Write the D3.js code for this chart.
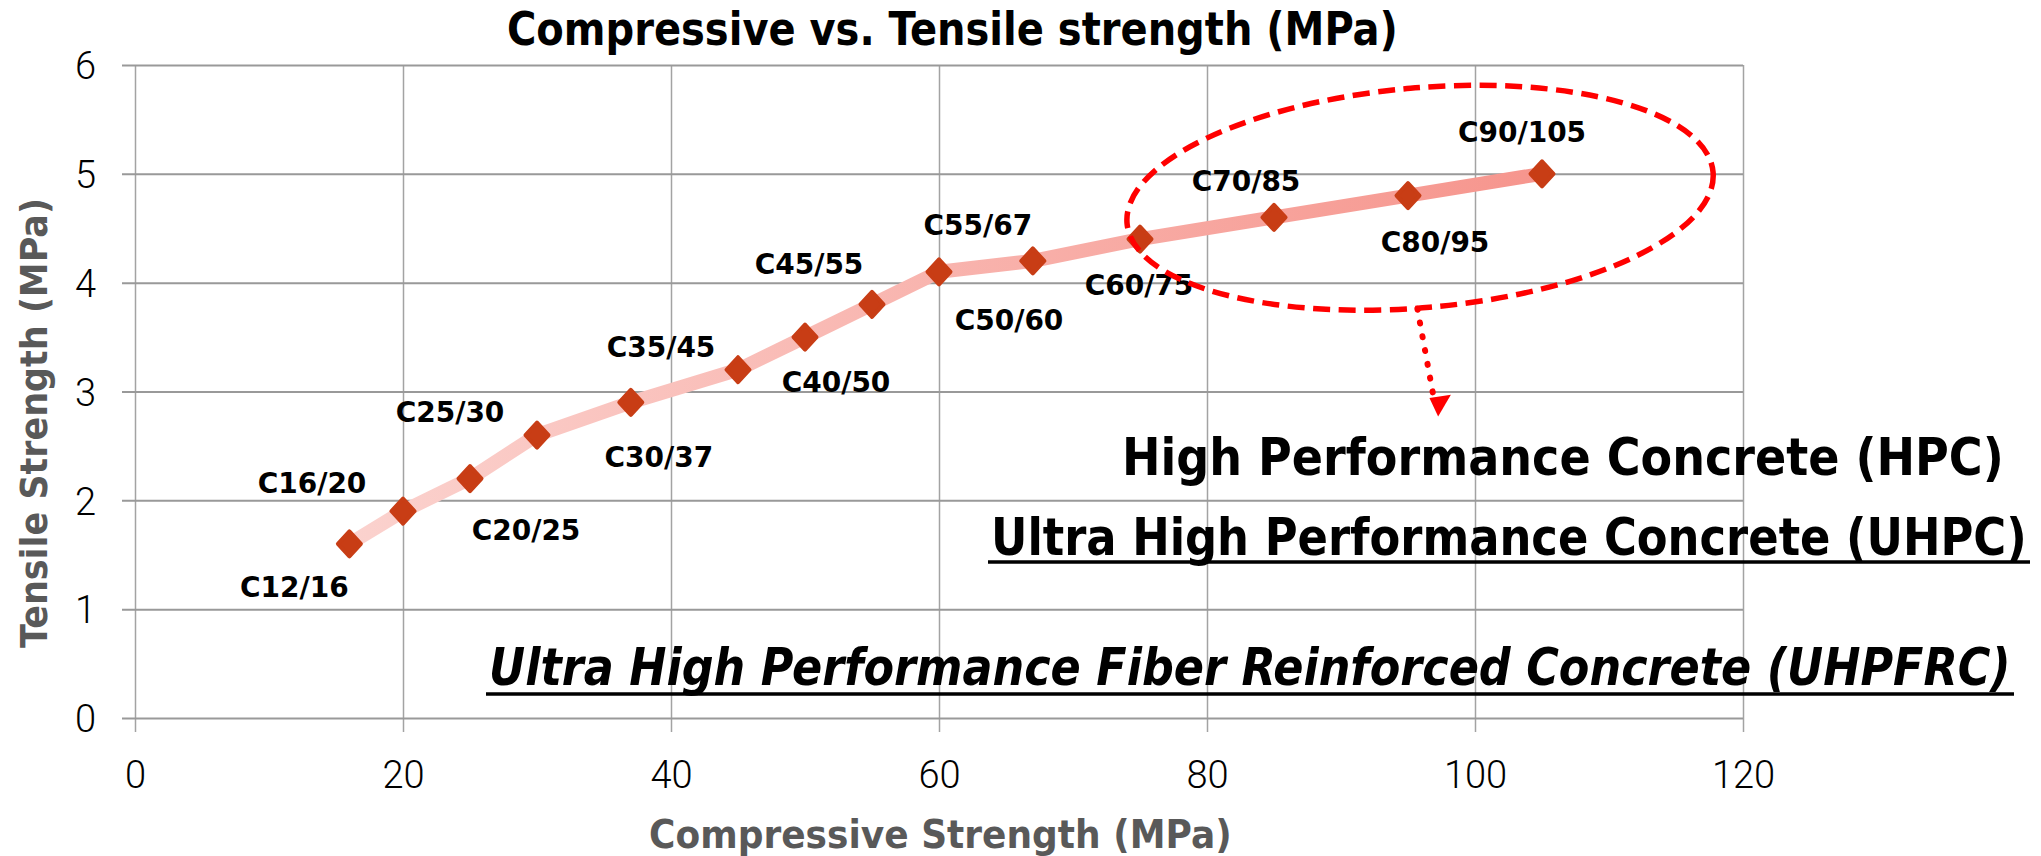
<!DOCTYPE html>
<html><head><meta charset="utf-8">
<script src="https://cdn.jsdelivr.net/npm/d3@7"></script>
<style>html,body{margin:0;padding:0;background:#fff;overflow:hidden} svg{display:block}</style>
</head><body>
<svg id="chart" width="2041" height="856"></svg>
<script>
// ---------- data ----------
const grades = ["C12/16","C16/20","C20/25","C25/30","C30/37","C35/45","C40/50","C45/55","C50/60","C55/67","C60/75","C70/85","C80/95","C90/105"];
const compressive = [16,20,25,30,37,45,50,55,60,67,75,85,95,105];
const tensile = [1.6,1.9,2.2,2.6,2.9,3.2,3.5,3.8,4.1,4.2,4.4,4.6,4.8,5.0];
const xTicks = [0,20,40,60,80,100,120];
const yTicks = [0,1,2,3,4,5,6];
const chartTitle = "Compressive vs. Tensile strength (MPa)";
const xTitle = "Compressive Strength (MPa)";
const yTitle = "Tensile Strength (MPa)";
const annotationTexts = ["High Performance Concrete (HPC)","Ultra High Performance Concrete (UHPC)","Ultra High Performance Fiber Reinforced Concrete (UHPFRC)"];

// ---------- layout (pixels) ----------
const labelOffsets = [[-55,43],[-91,-28],[56,51],[-87,-23],[28,55],[-77,-23],[31,45],[-63,-41],[70,48],[-55,-36],[-1,46],[-28,-36],[27,46],[-20,-42]];
const plot = {left:135, right:1743, top:65, bottom:718};

const svg = d3.select("#chart");
const x = d3.scaleLinear().domain([0,120]).range([plot.left, plot.right]);
const y = d3.scaleLinear().domain([0,6]).range([plot.bottom, plot.top]);

// ---------- grid + axes ----------
const xAxis = svg.append("g").attr("transform",`translate(0,${plot.bottom})`)
  .call(d3.axisBottom(x).tickValues(xTicks).tickSize(14).tickFormat(d3.format("d")));
xAxis.select(".domain").remove();
xAxis.selectAll(".tick line").attr("y1", -(plot.bottom-plot.top)).attr("stroke","#a3a3a3").attr("stroke-width",1.5);
xAxis.selectAll(".tick text").attr("y",70).attr("dy",0)
  .attr("font-family","Roboto, 'Open Sans', sans-serif").attr("font-weight",300).attr("font-size",38).attr("fill","#000");

const yAxis = svg.append("g").attr("transform",`translate(${plot.left},0)`)
  .call(d3.axisLeft(y).tickValues(yTicks).tickSize(13).tickFormat(d3.format("d")));
yAxis.select(".domain").remove();
yAxis.selectAll(".tick line").attr("x1", plot.right-plot.left).attr("stroke","#999").attr("stroke-width",2);
yAxis.selectAll(".tick text").attr("x",-39).attr("dy","0.36em")
  .attr("font-family","Roboto, 'Open Sans', sans-serif").attr("font-weight",300).attr("font-size",38).attr("fill","#000");

// fit a text to a width by choosing the font size, then scale vertically to keep the cap height
function fitText(sel, baseSize, width){
  sel.attr("font-size", baseSize);
  const nat = sel.node().getComputedTextLength();
  const fs = baseSize * width / nat;
  sel.attr("font-size", fs);
  return baseSize / fs; // vertical scale
}

// ---------- title & axis titles ----------
const titleT = svg.append("text").attr("x",0).attr("y",0)
  .attr("font-family","'DejaVu Sans Condensed','DejaVu Sans',sans-serif").attr("font-stretch","condensed")
  .attr("font-weight","bold").attr("fill","#000").text(chartTitle);
let sy = fitText(titleT, 46, 891);
titleT.attr("transform",`translate(507,45) scale(1,${sy})`);

const xt = svg.append("text").attr("x",0).attr("y",0)
  .attr("font-family","'DejaVu Sans',sans-serif").attr("font-weight","bold").attr("fill","#595959").text(xTitle);
sy = fitText(xt, 39, 583);
xt.attr("transform",`translate(649,848) scale(1,${sy})`);

const yt = svg.append("text").attr("x",0).attr("y",0)
  .attr("font-family","'DejaVu Sans',sans-serif").attr("font-weight","bold").attr("fill","#595959").text(yTitle);
sy = fitText(yt, 38, 450);
yt.attr("transform",`translate(47,648) rotate(-90) scale(1,${sy})`);

// ---------- series ----------
const pts = compressive.map((c,i)=>({c, t:tensile[i], g:grades[i], off:labelOffsets[i]}));
const defs = svg.append("defs");
const grad = defs.append("linearGradient").attr("id","lineGrad").attr("gradientUnits","userSpaceOnUse")
  .attr("x1",x(compressive[0])).attr("y1",0).attr("x2",x(compressive[compressive.length-1])).attr("y2",0);
grad.append("stop").attr("offset","0%").attr("stop-color","#fbd2ce");
grad.append("stop").attr("offset","100%").attr("stop-color","#f6958d");

const line = d3.line().x(d=>x(d.c)).y(d=>y(d.t));
svg.append("path").datum(pts).attr("d",line).attr("fill","none").attr("stroke","url(#lineGrad)")
  .attr("stroke-width",14).attr("stroke-linejoin","round");

svg.append("g").selectAll("path").data(pts).join("path")
  .attr("transform",d=>`translate(${x(d.c)},${y(d.t)})`)
  .attr("d","M0,-12.5L11.5,0L0,12.5L-11.5,0Z")
  .attr("fill","#c83d15").attr("stroke","#c83d15").attr("stroke-width",4).attr("stroke-linejoin","round");

svg.append("g").selectAll("text").data(pts).join("text")
  .attr("x",d=>x(d.c)+d.off[0]).attr("y",d=>y(d.t)+d.off[1]).attr("dy","0.36em")
  .attr("text-anchor","middle").attr("font-family","'DejaVu Sans',sans-serif").attr("font-weight","bold")
  .attr("font-size",28).attr("fill","#000").text(d=>d.g);

// ---------- annotation: ellipse + arrow ----------
const ell = {c:95.9, t:4.78, rc:21.95, rt:1.01};
svg.append("ellipse")
  .attr("transform",`translate(${x(ell.c)},${y(ell.t)}) rotate(-5)`)
  .attr("rx", x(ell.rc)-x(0)).attr("ry", y(0)-y(ell.rt))
  .attr("fill","none").attr("stroke","#ff0000").attr("stroke-width",5.5).attr("stroke-dasharray","17 8.5");

const arrowPts = [[95.7,3.76],[96.85,2.99]];
svg.append("path").attr("d", d3.line()(arrowPts.map(p=>[x(p[0]),y(p[1])])))
  .attr("stroke","#ff0000").attr("stroke-width",6).attr("stroke-linecap","round").attr("stroke-dasharray","1 13").attr("fill","none");
const head = [[96.6,2.94],[98.2,2.97],[97.25,2.77]];
svg.append("path").attr("d", d3.line()(head.map(p=>[x(p[0]),y(p[1])]))+"Z").attr("fill","#ff0000");

// ---------- annotation texts ----------
const annFont = "'DejaVu Sans Condensed','DejaVu Sans',sans-serif";
const ann = [
  {text:annotationTexts[0], x:1122, y:475, w:882, italic:false, underline:null},
  {text:annotationTexts[1], x:991, y:555, w:1036, italic:false, underline:562},
  {text:annotationTexts[2], x:489, y:685, w:1522, italic:true, underline:694}
];
ann.forEach(a=>{
  const t = svg.append("text").attr("x",0).attr("y",0)
    .attr("font-family",annFont).attr("font-stretch","condensed").attr("font-weight","bold")
    .attr("font-style",a.italic?"italic":"normal").attr("fill","#000").text(a.text);
  const s = fitText(t, 52, a.w);
  t.attr("transform",`translate(${a.x},${a.y}) scale(1,${s})`);
  if(a.underline){
    svg.append("line").attr("x1",a.x-3).attr("x2",a.x+a.w+3).attr("y1",a.underline).attr("y2",a.underline)
      .attr("stroke","#000").attr("stroke-width",3.5);
  }
});
</script>
</body></html>
